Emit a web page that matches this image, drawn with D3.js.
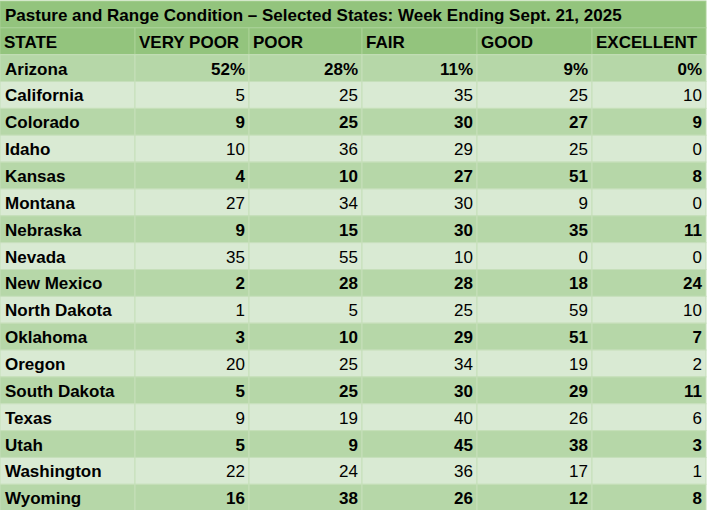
<!DOCTYPE html>
<html>
<head>
<meta charset="utf-8">
<script src="https://cdn.jsdelivr.net/npm/d3@7"></script>
<style>
  body { margin: 0; background: #fff; }
  svg { display: block; font-family: "Liberation Sans", Arial, sans-serif; }
</style>
</head>
<body>
<svg id="table"></svg>
<script>
// table contents
const title = 'Pasture and Range Condition \u2013 Selected States: Week Ending Sept. 21, 2025';
const headers = ['STATE', 'VERY POOR', 'POOR', 'FAIR', 'GOOD', 'EXCELLENT'];
const states = ['Arizona', 'California', 'Colorado', 'Idaho', 'Kansas', 'Montana', 'Nebraska', 'Nevada',
  'New Mexico', 'North Dakota', 'Oklahoma', 'Oregon', 'South Dakota', 'Texas', 'Utah', 'Washington', 'Wyoming'];
const veryPoor  = [52, 5, 9, 10, 4, 27, 9, 35, 2, 1, 3, 20, 5, 9, 5, 22, 16];
const poor      = [28, 25, 25, 36, 10, 34, 15, 55, 28, 5, 10, 25, 25, 19, 9, 24, 38];
const fair      = [11, 35, 30, 29, 27, 30, 30, 10, 28, 25, 29, 34, 30, 40, 45, 36, 26];
const good      = [9, 25, 27, 25, 51, 9, 35, 0, 18, 59, 51, 19, 29, 26, 38, 17, 12];
const excellent = [0, 10, 9, 0, 8, 0, 11, 0, 24, 10, 7, 2, 11, 6, 3, 1, 8];

const width = 707, height = 510;
const fontSize = 17;
const svg = d3.select('#table').attr('width', width).attr('height', height);

// column edges in pixels
const colEdges = [0, 135, 249, 362, 477, 592, 706];
const colX = d3.scaleOrdinal().domain(d3.range(6)).range(colEdges.slice(0, 6));
const colW = i => colEdges[i + 1] - colEdges[i];

const rowKeys = ['title', 'header', ...states];
const y = d3.scaleBand().domain(rowKeys).range([1, 1 + rowKeys.length * 26.85]);
const baseY = y.bandwidth() / 2 + 6.5;

const rows = states.map((s, i) => ({
  state: s,
  values: [veryPoor[i], poor[i], fair[i], good[i], excellent[i]],
  odd: i % 2 === 0,
  pct: i === 0
}));

const gridColor = '#c6dfba';

// title row
svg.append('rect')
  .attr('x', 0).attr('y', y('title'))
  .attr('width', colEdges[6]).attr('height', y.bandwidth())
  .attr('fill', '#93c47d').attr('stroke', '#a9d196');
svg.append('text')
  .attr('x', 5).attr('y', y('title') + baseY)
  .attr('font-size', fontSize).attr('font-weight', 'bold').attr('fill', '#000')
  .text(title);

// header row
const hdr = svg.append('g');
hdr.selectAll('rect').data(headers).join('rect')
  .attr('x', (d, i) => colX(i)).attr('y', y('header'))
  .attr('width', (d, i) => colW(i)).attr('height', y.bandwidth())
  .attr('fill', '#93c47d').attr('stroke', '#a9d196');
hdr.selectAll('text').data(headers).join('text')
  .attr('x', (d, i) => colX(i) + 4)
  .attr('y', y('header') + baseY)
  .attr('font-size', fontSize).attr('font-weight', 'bold').attr('fill', '#000')
  .text(d => d);

// data rows
const body = svg.selectAll('g.row').data(rows).join('g').attr('class', 'row')
  .attr('transform', d => `translate(0,${y(d.state)})`);

body.selectAll('rect').data(d => d3.range(6).map(i => d)).join('rect')
  .attr('x', (d, i) => colX(i)).attr('y', 0)
  .attr('width', (d, i) => colW(i)).attr('height', y.bandwidth())
  .attr('fill', d => d.odd ? '#b6d7a8' : '#d9ead3')
  .attr('stroke', gridColor);

body.append('text')
  .attr('x', 5).attr('y', baseY)
  .attr('font-size', fontSize).attr('font-weight', 'bold').attr('fill', '#000')
  .text(d => d.state);

body.selectAll('text.val').data(d => d.values.map(v => ({ v, odd: d.odd, pct: d.pct }))).join('text')
  .attr('class', 'val')
  .attr('x', (d, i) => colX(i + 1) + colW(i + 1) - 4)
  .attr('y', baseY)
  .attr('text-anchor', 'end')
  .attr('font-size', fontSize)
  .attr('font-weight', d => d.odd ? 'bold' : 'normal')
  .attr('fill', '#000')
  .text(d => d.pct ? d.v + '%' : d.v);
</script>
</body>
</html>
